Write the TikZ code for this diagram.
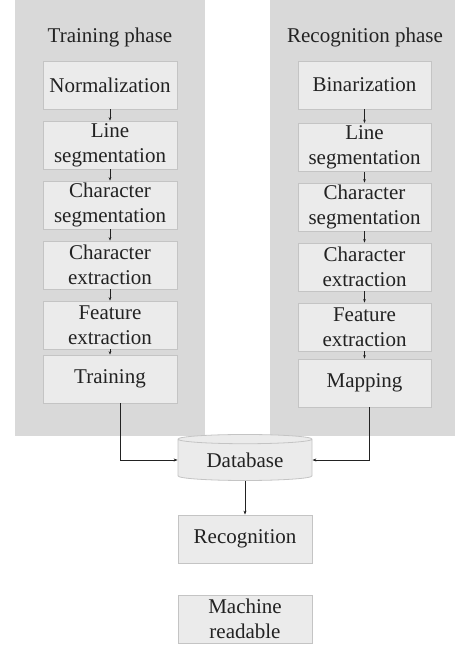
\documentclass[tikz,border=0pt]{standalone}
\usepackage{fontspec}
\setmainfont{Liberation Serif}
\usetikzlibrary{arrows.meta,shapes.geometric}
\definecolor{panelgray}{HTML}{D9D9D9}
\definecolor{boxgray}{HTML}{EBEBEB}
\definecolor{boxline}{HTML}{C4C4C4}
\definecolor{ink}{HTML}{222222}
\tikzset{
  stepbox/.style={draw=boxline, line width=0.8pt, fill=boxgray, minimum width=134pt,
    minimum height=48pt, inner sep=0pt, align=center, text=ink,
    font=\fontsize{21}{25}\selectfont},
  title/.style={text=ink, font=\fontsize{21}{25}\selectfont, inner sep=0pt},
  flow/.style={draw=ink, line width=0.9pt, -{Stealth[length=4pt,width=3pt]}},
  link/.style={draw=ink, line width=0.6pt, -{Stealth[length=3.5pt,width=2.6pt]}},
}
\begin{document}
\begin{tikzpicture}[x=1pt,y=-1pt]
\useasboundingbox (0,0) rectangle (455,646);
% phase panels
\fill[panelgray] (15,0) rectangle (205,436);
\fill[panelgray] (270,0) rectangle (455,436);
\node[title] (ttl) at (110,37) {Training phase};
\node[title] (rtl) at (365,37) {Recognition phase};
% training column
\node[stepbox] (t1) at (110,85) {Normalization};
\node[stepbox] (t2) at (110,145) {Line\\segmentation};
\node[stepbox] (t3) at (110,205) {Character\\segmentation};
\node[stepbox] (t4) at (110,265) {Character\\extraction};
\node[stepbox] (t5) at (110,325) {Feature\\extraction};
\node[stepbox] (t6) at (110,379) {Training};
% recognition column
\node[stepbox, minimum width=133pt] (r1) at (364.5,85) {Binarization};
\node[stepbox, minimum width=133pt] (r2) at (364.5,147.5) {Line\\segmentation};
\node[stepbox, minimum width=133pt] (r3) at (364.5,207) {Character\\segmentation};
\node[stepbox, minimum width=133pt] (r4) at (364.5,267) {Character\\extraction};
\node[stepbox, minimum width=133pt] (r5) at (364.5,327) {Feature\\extraction};
\node[stepbox, minimum width=133pt] (r6) at (364.5,383) {Mapping};
% shared stages
\node[draw=boxline, line width=0.8pt, fill=boxgray, cylinder, shape border rotate=90,
  aspect=0.12, minimum width=134pt, minimum height=46pt, inner sep=0pt, text=ink,
  font=\fontsize{21}{25}\selectfont] (db) at (245,460) {Database};
\node[stepbox] (rec) at (245,539) {Recognition};
\node[stepbox] (mr) at (245,619) {Machine\\readable};
% step connectors
\foreach \a/\b in {t1/t2,t2/t3,t3/t4,t4/t5,t5/t6,r1/r2,r2/r3,r3/r4,r4/r5,r5/r6}
  \draw[link] (\a.south) -- (\b.north);
% into and out of the database
\draw[flow] ([xshift=10pt]t6.south) |- (db.west);
\draw[flow] ([xshift=4.5pt]r6.south) |- (db.east);
\draw[flow] (db.south) -- (rec.north);
\end{tikzpicture}
\end{document}
